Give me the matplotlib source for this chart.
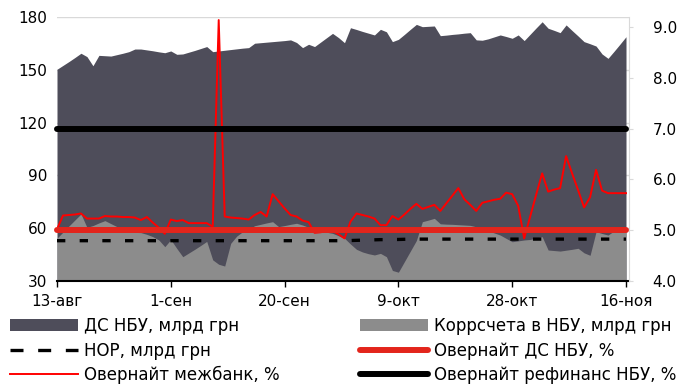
import pandas as pd
import matplotlib
matplotlib.use('Agg')
import matplotlib.pyplot as plt
from matplotlib.lines import Line2D
from matplotlib.patches import Patch
from matplotlib.ticker import FormatStrFormatter

plt.rcParams['font.family'] = ['DejaVu Sans']
plt.rcParams['font.size'] = 11

# daily data, 13 Aug - 16 Nov
dates = pd.date_range('2018-08-13', '2018-11-16', freq='D')

# ДС НБУ, млрд грн
ds_nbu = [
    150.3, 152.5, 154.7, 157.0, 159.4, 157.5, 152.3, 158.2, 158.0, 157.8,
    158.6, 159.4, 160.3, 161.8, 161.8, 161.3, 160.8, 160.2, 159.7, 160.7,
    158.8, 159.0, 160.0, 161.0, 162.1, 163.2, 160.3, 160.7, 161.1, 161.5,
    161.9, 162.3, 162.6, 165.1, 165.4, 165.7, 166.0, 166.3, 166.6, 167.0,
    165.5, 162.6, 164.5, 163.2, 165.7, 168.2, 170.7, 168.3, 165.4, 173.9,
    172.9, 171.8, 170.8, 169.8, 173.0, 171.6, 166.0, 167.3, 170.1, 173.0,
    175.8, 174.5, 174.7, 174.9, 169.4, 169.7, 170.1, 170.4, 170.8, 171.1,
    167.0, 166.8, 167.6, 168.7, 169.8, 168.9, 167.9, 169.8, 166.6, 170.2,
    173.8, 177.3, 173.6, 172.4, 171.1, 175.5, 172.3, 169.2, 166.0, 164.8,
    163.5, 159.0, 156.5, 160.5, 164.6, 168.8,
]

# Коррсчета в НБУ, млрд грн
korr = [
    54.3, 57.8, 61.3, 64.7, 68.1, 60.5, 61.5, 63.0, 64.3, 62.6,
    60.9, 59.5, 58.3, 57.6, 57.5, 56.5, 55.2, 53.3, 49.5, 53.5,
    48.5, 43.8, 45.9, 48.0, 50.2, 52.5, 42.0, 39.5, 38.5, 51.4,
    55.5, 58.0, 59.5, 61.4, 62.2, 63.0, 63.7, 60.9, 61.5, 62.2,
    62.8, 61.8, 60.5, 59.5, 58.5, 57.7, 57.1, 55.7, 54.3, 51.0,
    48.0, 46.5, 45.5, 44.8, 45.7, 43.8, 36.0, 35.0, 41.0, 47.0,
    53.0, 63.7, 64.6, 65.6, 62.5, 62.3, 62.2, 62.0, 61.8, 61.6,
    60.8, 59.8, 58.5, 57.3, 56.1, 54.2, 52.3, 52.8, 53.3, 53.6,
    54.4, 55.2, 47.6, 47.3, 47.0, 47.5, 48.0, 48.6, 46.0, 44.6,
    58.0, 57.0, 56.1, 58.4, 58.7, 59.0,
]

# НОР, млрд грн
nor = [
    52.9, 52.9, 52.9, 52.9, 52.9, 52.9, 52.9, 52.9, 52.9, 52.9,
    52.9, 52.9, 52.9, 52.9, 52.9, 52.9, 52.9, 52.9, 52.9, 52.9,
    52.9, 52.9, 52.9, 52.9, 52.9, 52.9, 52.9, 52.9, 52.9, 52.9,
    52.9, 52.9, 52.9, 52.9, 52.9, 52.9, 52.9, 52.9, 52.9, 52.9,
    52.9, 52.9, 52.9, 52.9, 52.9, 52.9, 52.9, 52.9, 52.9, 53.0,
    53.1, 53.2, 53.3, 53.4, 53.5, 53.5, 53.6, 53.6, 53.7, 53.8,
    53.8, 53.8, 53.8, 53.8, 53.8, 53.8, 53.8, 53.8, 53.8, 53.8,
    53.8, 53.8, 53.8, 53.8, 53.8, 53.8, 53.8, 53.8, 53.8, 53.8,
    53.8, 53.8, 53.8, 53.8, 53.8, 53.8, 53.8, 53.8, 53.8, 53.8,
    53.8, 53.8, 53.8, 53.8, 53.8, 53.8,
]

# Овернайт межбанк, %
interbank = [
    5.02, 5.29, 5.30, 5.31, 5.33, 5.23, 5.23, 5.23, 5.28, 5.27,
    5.27, 5.26, 5.26, 5.25, 5.20, 5.26, 5.15, 5.05, 4.93, 5.21,
    5.18, 5.20, 5.14, 5.14, 5.14, 5.14, 5.07, 9.14, 5.27, 5.25,
    5.24, 5.23, 5.21, 5.30, 5.36, 5.27, 5.71, 5.57, 5.43, 5.30,
    5.27, 5.19, 5.16, 4.95, 4.96, 4.98, 4.99, 4.92, 4.84, 5.17,
    5.33, 5.30, 5.27, 5.23, 5.10, 5.10, 5.28, 5.21, 5.31, 5.42,
    5.52, 5.42, 5.46, 5.50, 5.38, 5.53, 5.68, 5.83, 5.61, 5.50,
    5.38, 5.54, 5.57, 5.60, 5.62, 5.74, 5.71, 5.48, 4.84, 5.27,
    5.70, 6.12, 5.76, 5.80, 5.83, 6.46, 6.12, 5.79, 5.45, 5.65,
    6.19, 5.78, 5.73, 5.73, 5.73, 5.73,
]

ds_rate = 5.0    # Овернайт ДС НБУ, %
refi_rate = 7.0  # Овернайт рефинанс НБУ, %

tick_dates = pd.to_datetime(['2018-08-13', '2018-09-01', '2018-09-20',
                             '2018-10-09', '2018-10-28', '2018-11-16'])
tick_labels = ['13-авг', '1-сен', '20-сен', '9-окт', '28-окт', '16-ноя']

c_dark = '#4e4d5a'
c_gray = '#8c8c8c'
c_red_thick = '#e3251c'
c_red = '#ff0000'

fig = plt.figure(figsize=(6.79, 3.87), dpi=100)
ax = fig.add_axes([57 / 679, 1 - 281 / 387, 572 / 679, 264 / 387])

ax.fill_between(dates, 0, ds_nbu, color=c_dark, lw=0, zorder=1)
ax.fill_between(dates, 0, korr, color=c_gray, lw=0, zorder=2)
ax.plot(dates, nor, color='black', lw=2.4, ls=(0, (2.5, 4.3)), zorder=3)

ax.set_ylim(30, 180)
ax.set_yticks([30, 60, 90, 120, 150, 180])
ax.set_xlim(dates[0], dates[-1] + pd.Timedelta(hours=12))
ax.set_xticks(tick_dates)
ax.set_xticklabels(tick_labels)
ax.yaxis.grid(True, color='#d9d9d9', lw=1)
ax.set_axisbelow(True)
for s in ['left', 'top', 'right']:
    ax.spines[s].set_visible(False)
ax.spines['bottom'].set_linewidth(1.5)
ax.spines['bottom'].set_zorder(5)
ax.tick_params(axis='y', length=0, pad=7)
ax.tick_params(axis='x', length=4, width=1, pad=5)

ax2 = ax.twinx()
ax2.plot(dates, interbank, color=c_red, lw=1.4, zorder=3)
ax2.plot([dates[0], dates[-1]], [ds_rate, ds_rate], color=c_red_thick, lw=4.3,
         solid_capstyle='round', clip_on=False, zorder=4)
ax2.plot([dates[0], dates[-1]], [refi_rate, refi_rate], color='black', lw=4.3,
         solid_capstyle='round', clip_on=False, zorder=5)
ax2.set_ylim(4, 9.2)
ax2.set_yticks([4, 5, 6, 7, 8, 9])
ax2.yaxis.set_major_formatter(FormatStrFormatter('%.1f'))
for s in ['left', 'top', 'bottom']:
    ax2.spines[s].set_visible(False)
ax2.spines['right'].set_color('#d9d9d9')
ax2.tick_params(axis='y', length=3, color='#d9d9d9', pad=14)

handles = [
    Patch(facecolor=c_dark),
    Line2D([], [], color='black', lw=2.4, ls=(0, (3.9, 4.4))),
    Line2D([], [], color=c_red, lw=1.4),
    Patch(facecolor=c_gray),
    Line2D([], [], color=c_red_thick, lw=4.3, solid_capstyle='round'),
    Line2D([], [], color='black', lw=4.3, solid_capstyle='round'),
]
labels = ['ДС НБУ, млрд грн', 'НОР, млрд грн', 'Овернайт межбанк, %',
          'Коррсчета в НБУ, млрд грн', 'Овернайт ДС НБУ, %',
          'Овернайт рефинанс НБУ, %']
fig.legend(handles, labels, ncol=2, loc='upper left', fontsize=12,
           bbox_to_anchor=(10 / 679, 1 - 317 / 387), frameon=False,
           handlelength=4.08, handletextpad=0.36, columnspacing=4.8,
           labelspacing=0.39, borderpad=0, borderaxespad=0)

fig.savefig('out.png', dpi=100)
